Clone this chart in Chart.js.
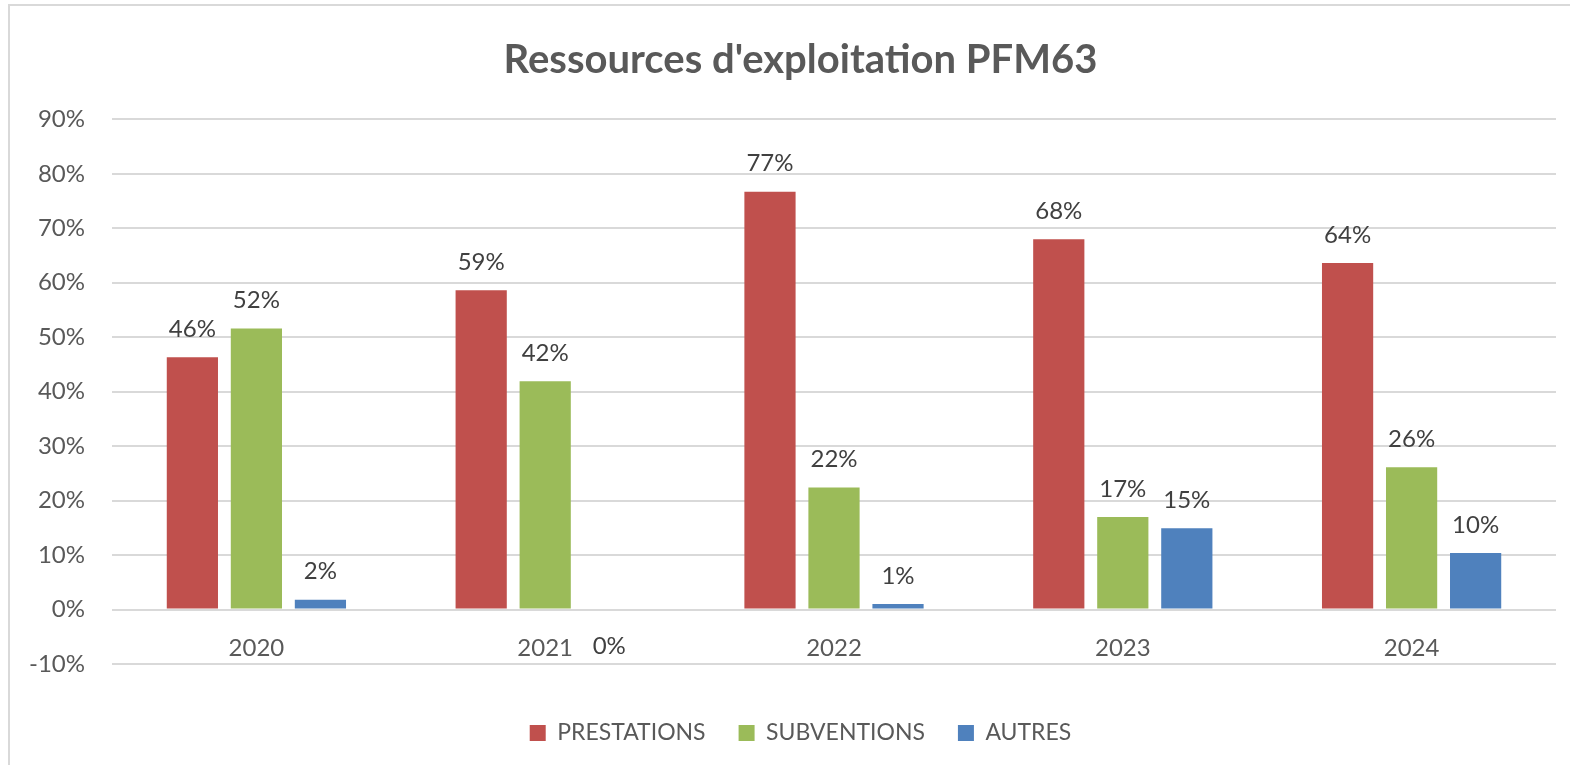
<!DOCTYPE html>
<html>
<head>
<meta charset="utf-8">
<script src="https://cdn.jsdelivr.net/npm/chart.js@4.4.1/dist/chart.umd.min.js"></script>
<style>
  html, body { margin: 0; padding: 0; background: #fff; }
  #wrap { width: 1570px; height: 765px; }
</style>
</head>
<body>
<div id="wrap"><canvas id="chart"></canvas></div>
<script>
const years = ['2020', '2021', '2022', '2023', '2024'];
const prestations = [46.3, 58.6, 76.7, 68.0, 63.6];
const subventions = [51.6, 41.9, 22.4, 17.0, 26.1];
const autres = [1.8, 0, 1.0, 14.9, 10.4];
const yTicks = [-10, 0, 10, 20, 30, 40, 50, 60, 70, 80, 90];

Chart.defaults.font.family = 'Lato, "Liberation Sans", sans-serif';

// light grey frame round the chart, like the Excel chart area
const frame = {
  id: 'frame',
  afterLayout(chart) {
    // let the y tick labels use the space left of the axis box (no clipping)
    chart.scales.y.left = 0;
  },
  beforeDraw(chart) {
    const ctx = chart.ctx;
    ctx.save();
    ctx.strokeStyle = '#d9d9d9';
    ctx.lineWidth = 2;
    ctx.strokeRect(9, 5, 1700, 900);
    ctx.restore();
  }
};

// value labels above each bar (below the axis when the value is 0)
const valueLabels = {
  id: 'valueLabels',
  afterDatasetsDraw(chart) {
    const ctx = chart.ctx;
    ctx.save();
    ctx.font = '24px Lato, "Liberation Sans", sans-serif';
    ctx.fillStyle = '#404040';
    ctx.textAlign = 'center';
    ctx.textBaseline = 'middle';
    chart.data.datasets.forEach((ds, i) => {
      chart.getDatasetMeta(i).data.forEach((bar, j) => {
        const v = ds.data[j];
        const y = v > 0 ? bar.y - 28 : bar.y + 37;
        ctx.fillText(Math.round(v) + '%', bar.x, y);
      });
    });
    ctx.restore();
  }
};

new Chart(document.getElementById('chart'), {
  type: 'bar',
  data: {
    labels: years,
    datasets: [
      { label: 'PRESTATIONS', data: prestations, backgroundColor: '#C0504D' },
      { label: 'SUBVENTIONS', data: subventions, backgroundColor: '#9BBB59' },
      { label: 'AUTRES', data: autres, backgroundColor: '#4F81BD' }
    ]
  },
  options: {
    responsive: true,
    maintainAspectRatio: false,
    animation: false,
    layout: { padding: { left: 45, right: 14, top: 0, bottom: 10.5 } },
    datasets: { bar: { barPercentage: 0.8, categoryPercentage: 0.665 } },
    scales: {
      x: {
        position: { y: 0 },
        grid: { display: false },
        border: { display: false },
        ticks: { color: '#595959', font: { size: 24 }, padding: 16 }
      },
      y: {
        min: -10,
        max: 90,
        afterFit(scale) { scale.width = 67; },
        afterBuildTicks(scale) { scale.ticks = yTicks.map(v => ({ value: v })); },
        grid: { color: '#d9d9d9', lineWidth: 2, drawTicks: false },
        border: { display: false },
        ticks: {
          color: '#595959',
          font: { size: 24 },
          padding: 27,
          callback: v => v + '%'
        }
      }
    },
    plugins: {
      title: {
        display: true,
        text: "Ressources d'exploitation PFM63",
        color: '#595959',
        font: { size: 40, weight: 'bold' },
        padding: { top: 36, bottom: 35.3 }
      },
      legend: {
        position: 'bottom',
        title: { display: true, text: '', font: { size: 10, lineHeight: 1 }, padding: { top: 0, bottom: 14.5 } },
        labels: {
          color: '#595959',
          font: { size: 23 },
          boxWidth: 16,
          boxHeight: 16,
          padding: 33
        }
      },
      tooltip: { enabled: false }
    }
  },
  plugins: [frame, valueLabels]
});
</script>
</body>
</html>
